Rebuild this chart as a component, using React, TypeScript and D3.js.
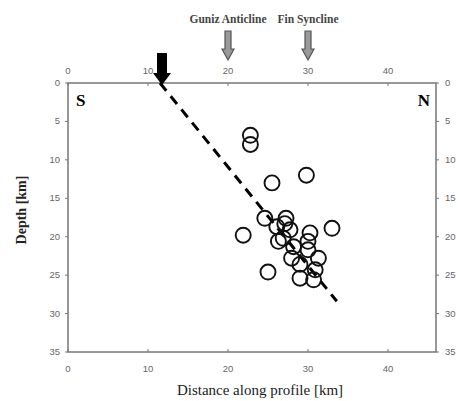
import React, { useEffect, useRef } from 'react';
import * as d3 from 'd3';

// hypocentres: distance along profile [km], depth [km]
const quakeDist = [22.8, 22.8, 29.8, 25.5, 24.6, 27.25, 26.1, 27.75, 26.9, 30.25, 33.0, 21.9, 30.0, 26.3, 28.2, 30.0, 27.95, 31.3, 29.0, 30.9, 25.0, 29.0, 30.7, 27.1];
const quakeDepth = [6.8, 8.0, 12.0, 13.0, 17.6, 17.6, 18.7, 19.1, 20.2, 19.5, 18.9, 19.8, 20.6, 20.6, 21.3, 21.7, 22.8, 22.8, 23.6, 24.3, 24.6, 25.4, 25.6, 18.3];

// fault trace (dashed)
const faultDist = [11.5, 33.6];
const faultDepth = [0, 28.4];

const xTicks = [0, 10, 20, 30, 40];
const yTicks = [0, 5, 10, 15, 20, 25, 30, 35];

// structures marked above the section
const structures = [
  { name: 'Guniz Anticline', km: 20 },
  { name: 'Fin Syncline', km: 30 },
];
const thrustKm = 12;

export default function App() {
  const ref = useRef<SVGSVGElement>(null);

  useEffect(() => {
    const svg = d3.select(ref.current);
    svg.selectAll('*').remove();

    const left = 68, right = 436, top = 83, bottom = 352;
    const x = d3.scaleLinear().domain([0, 46]).range([left, right]);
    const y = d3.scaleLinear().domain([0, 35]).range([top, bottom]);

    const axisColor = '#777';
    const tickFont = 'Arial, Liberation Sans, sans-serif';
    const serif = 'Liberation Serif, Times New Roman, serif';

    // frame
    svg.append('rect')
      .attr('x', left).attr('y', top)
      .attr('width', right - left).attr('height', bottom - top)
      .attr('fill', 'none').attr('stroke', axisColor).attr('stroke-width', 1.5);

    const g = svg.append('g');

    // x ticks top and bottom
    xTicks.forEach(t => {
      g.append('line').attr('x1', x(t)).attr('x2', x(t)).attr('y1', top).attr('y2', top + 3)
        .attr('stroke', axisColor);
      g.append('line').attr('x1', x(t)).attr('x2', x(t)).attr('y1', bottom).attr('y2', bottom - 3)
        .attr('stroke', axisColor);
      g.append('text').attr('x', x(t)).attr('y', top - 9).attr('text-anchor', 'middle')
        .attr('font-family', tickFont).attr('font-size', 9.5).attr('fill', '#666').text(t);
      g.append('text').attr('x', x(t)).attr('y', bottom + 20).attr('text-anchor', 'middle')
        .attr('font-family', tickFont).attr('font-size', 9.5).attr('fill', '#666').text(t);
    });

    // y ticks left and right
    yTicks.forEach(t => {
      g.append('line').attr('x1', left - 3).attr('x2', left).attr('y1', y(t)).attr('y2', y(t))
        .attr('stroke', axisColor);
      g.append('line').attr('x1', right).attr('x2', right + 3).attr('y1', y(t)).attr('y2', y(t))
        .attr('stroke', axisColor);
      g.append('text').attr('x', left - 8).attr('y', y(t) + 3).attr('text-anchor', 'end')
        .attr('font-family', tickFont).attr('font-size', 9.5).attr('fill', '#666').text(t);
      g.append('text').attr('x', right + 9).attr('y', y(t) + 3).attr('text-anchor', 'start')
        .attr('font-family', tickFont).attr('font-size', 9.5).attr('fill', '#666').text(t);
    });

    // S / N
    g.append('text').attr('x', left + 8).attr('y', top + 23)
      .attr('font-family', serif).attr('font-weight', 'bold')
      .attr('font-size', 17).text('S');
    g.append('text').attr('x', right - 6).attr('y', top + 23).attr('text-anchor', 'end')
      .attr('font-family', serif).attr('font-weight', 'bold')
      .attr('font-size', 17).text('N');

    // dashed fault
    const line = d3.line<number>().x(d => x(faultDist[d])).y(d => y(faultDepth[d]));
    g.append('path').attr('d', line([0, 1]))
      .attr('fill', 'none').attr('stroke', '#000').attr('stroke-width', 3)
      .attr('stroke-dasharray', '10,7');

    // earthquakes
    g.append('g').selectAll('circle')
      .data(quakeDist.map((d, i) => [d, quakeDepth[i]]))
      .enter().append('circle')
      .attr('cx', d => x(d[0])).attr('cy', d => y(d[1])).attr('r', 7.5)
      .attr('fill', 'none').attr('stroke', '#111').attr('stroke-width', 1.9);

    // structure arrows
    structures.forEach(s => {
      const cx = x(s.km);
      g.append('path')
        .attr('d', `M${cx - 3},31 L${cx + 3},31 L${cx + 3},49 L${cx + 6},49 L${cx},60 L${cx - 6},49 L${cx - 3},49 Z`)
        .attr('fill', '#999').attr('stroke', '#555').attr('stroke-width', 1.2);
      g.append('text').attr('x', cx).attr('y', 23).attr('text-anchor', 'middle')
        .attr('font-family', serif).attr('font-size', 11.5).attr('font-weight', 'bold')
        .attr('fill', '#444').text(s.name);
    });

    // thrust tip arrow (black)
    const tx = x(thrustKm) - 2;
    g.append('path')
      .attr('d', `M${tx - 5},53 L${tx + 5},53 L${tx + 5},73 L${tx + 9},73 L${tx},85 L${tx - 9},73 L${tx - 5},73 Z`)
      .attr('fill', '#000');

    // axis titles
    g.append('text').attr('x', 260).attr('y', 395).attr('text-anchor', 'middle')
      .attr('font-family', serif).attr('font-size', 15)
      .attr('fill', '#222').text('Distance along profile [km]');
    g.append('text').attr('transform', 'translate(26,210) rotate(-90)').attr('text-anchor', 'middle')
      .attr('font-family', serif).attr('font-size', 14)
      .attr('font-weight', 'bold').attr('fill', '#222').text('Depth [km]');
  }, []);

  return <svg ref={ref} width={458} height={401} style={{ position: 'absolute', left: 0, top: 0 }} />;
}
